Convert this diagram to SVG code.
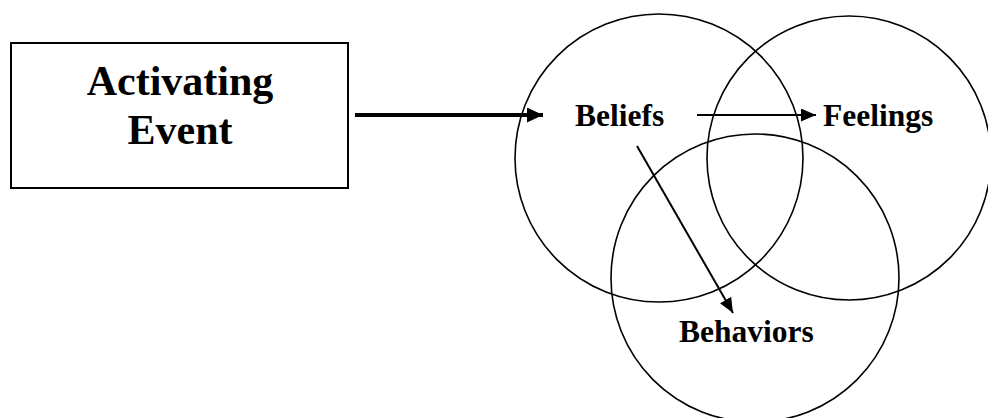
<svg xmlns="http://www.w3.org/2000/svg" width="988" height="418" viewBox="0 0 988 418">
  <style>
    .lbl { font-family: "Liberation Serif", "Times New Roman", serif; font-weight: bold; fill: #000; }
    .ring { fill: none; stroke: #000; stroke-width: 1.6; }
    .edge { stroke: #000; fill: none; }
  </style>
  <defs>
    <marker id="head" viewBox="0 0 15 13" refX="15" refY="6.5" markerWidth="15" markerHeight="13" markerUnits="userSpaceOnUse" orient="auto">
      <path d="M0,0 L15,6.5 L0,13 Z" fill="#000"/>
    </marker>
    <marker id="head-bold" viewBox="0 0 16 15" refX="16" refY="7.5" markerWidth="16" markerHeight="15" markerUnits="userSpaceOnUse" orient="auto">
      <path d="M0,0 L16,7.5 L0,15 Z" fill="#000"/>
    </marker>
  </defs>
  <rect width="988" height="418" fill="#fff"/>

  <g id="activating-event">
    <rect x="11" y="43" width="337" height="145" fill="#fff" stroke="#000" stroke-width="2"/>
    <text class="lbl" x="180" y="95" font-size="42" text-anchor="middle">Activating</text>
    <text class="lbl" x="180" y="144" font-size="42" text-anchor="middle">Event</text>
  </g>

  <g id="beliefs">
    <circle class="ring" cx="659" cy="158" r="144"/>
    <text class="lbl" x="575" y="126" font-size="31.5">Beliefs</text>
  </g>

  <g id="feelings">
    <circle class="ring" cx="849" cy="158" r="142"/>
    <text class="lbl" x="823" y="126" font-size="31.5">Feelings</text>
  </g>

  <g id="behaviors">
    <circle class="ring" cx="755" cy="278" r="144"/>
    <text class="lbl" x="679" y="342" font-size="31.5">Behaviors</text>
  </g>

  <g id="connectors">
    <line class="edge" x1="355" y1="115" x2="543" y2="115" stroke-width="4" marker-end="url(#head-bold)"/>
    <line class="edge" x1="697" y1="115" x2="816" y2="115" stroke-width="2" marker-end="url(#head)"/>
    <line class="edge" x1="637" y1="146" x2="733" y2="313" stroke-width="2" marker-end="url(#head)"/>
  </g>
</svg>
